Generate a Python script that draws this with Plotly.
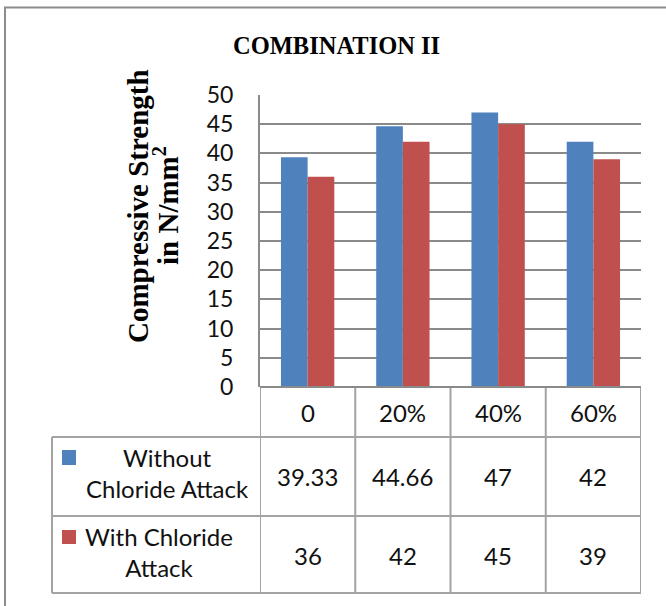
import plotly.graph_objects as go

# ---- data ----
categories = ["0", "20%", "40%", "60%"]
without_chloride = [39.33, 44.66, 47, 42]
with_chloride = [36, 42, 45, 39]
series_labels = ["Without<br>Chloride Attack", "With Chloride<br>Attack"]
series_colors = ["#4F81BD", "#C0504D"]
y_ticks = list(range(0, 55, 5))
y_title_lines = ["<b>Compressive Strength</b>", "<b>in N/mm<sup>2</sup></b>"]

# ---- layout geometry (pixels) ----
W, H = 666, 606
L, R, T, B = 260, 25, 95, 219
PW = W - L - R
PH = H - T - B

SANS = "Lato"
SERIF = "Liberation Serif"
GRID = "#8a8a8a"
TABLE_LINE = "#a3a3a3"
TEXT = "#111111"


def px_x(p):
    return (p - L) / PW


def px_y(p):
    return 1 - (p - T) / PH


def fmt(v):
    return f"{v:g}"


fig = go.Figure()
for name, vals, col in zip(series_labels, [without_chloride, with_chloride], series_colors):
    fig.add_trace(go.Bar(x=categories, y=vals, name=name.replace("<br>", " "),
                         marker=dict(color=col, line=dict(width=0))))

# table row boundaries (paper y)
row_header_bottom = px_y(437)
row1_bottom = px_y(516)
row2_bottom = px_y(593)
legend_left = px_x(52)

shapes = []
line = dict(color=TABLE_LINE, width=2)
# column separators at category boundaries
for i in range(len(categories) + 1):
    shapes.append(dict(type="line", xref="x", yref="paper", x0=i - 0.5, x1=i - 0.5,
                       y0=0, y1=row2_bottom, line=line))
# horizontal table rules
for yy in (row_header_bottom, row1_bottom, row2_bottom):
    shapes.append(dict(type="line", xref="paper", yref="paper", x0=legend_left, x1=1,
                       y0=yy, y1=yy, line=line))
shapes.append(dict(type="line", xref="paper", yref="paper", x0=legend_left, x1=legend_left,
                   y0=row_header_bottom, y1=row2_bottom, line=line))
# x axis baseline
shapes.append(dict(type="line", xref="paper", yref="paper", x0=0, x1=1, y0=0, y1=0,
                   line=dict(color=GRID, width=2)))
# legend keys
key_rows = [(450, 465), (530, 544)]
for (ya, yb), col in zip(key_rows, series_colors):
    shapes.append(dict(type="rect", xref="paper", yref="paper",
                       x0=px_x(62), x1=px_x(76), y0=px_y(yb), y1=px_y(ya),
                       fillcolor=col, line=dict(width=0)))
# chart frame
shapes.append(dict(type="rect", xref="paper", yref="paper",
                   x0=px_x(5), x1=px_x(700), y0=px_y(650), y1=px_y(7.5),
                   line=dict(color="#8c8c8c", width=2), fillcolor="rgba(0,0,0,0)",
                   layer="below"))

annotations = []
table_font = dict(family=SANS, size=24, color=TEXT)
header_y = px_y(412)
row_ys = [px_y(476.5), px_y(555)]
for i, c in enumerate(categories):
    annotations.append(dict(xref="x", yref="paper", x=i, y=header_y, text=c,
                            showarrow=False, font=table_font, xanchor="center", yanchor="middle"))
for vals, ry in zip([without_chloride, with_chloride], row_ys):
    for i, v in enumerate(vals):
        annotations.append(dict(xref="x", yref="paper", x=i, y=ry, text=fmt(v),
                                showarrow=False, font=table_font, xanchor="center", yanchor="middle"))
label_pos = [(167, 473), (159, 551.5)]
for lbl, (lx, ly) in zip(series_labels, label_pos):
    annotations.append(dict(xref="paper", yref="paper", x=px_x(lx), y=px_y(ly), text=lbl,
                            showarrow=False, font=table_font, align="center",
                            xanchor="center", yanchor="middle"))
# chart title
annotations.append(dict(xref="paper", yref="paper", x=px_x(336.5), y=px_y(46),
                        text="<b>COMBINATION II</b>", showarrow=False,
                        font=dict(family=SERIF, size=24.5, color="#000000"),
                        xanchor="center", yanchor="middle"))
# y axis title, two rotated lines
for txt, lx in zip(y_title_lines, (138, 166)):
    annotations.append(dict(xref="paper", yref="paper", x=px_x(lx), y=px_y(206),
                            text=txt, showarrow=False, textangle=-90,
                            font=dict(family=SERIF, size=29, color="#000000"),
                            xanchor="center", yanchor="middle"))

fig.update_layout(
    width=W, height=H,
    margin=dict(l=L, r=R, t=T, b=B, pad=0),
    paper_bgcolor="white", plot_bgcolor="white",
    barmode="group", bargap=0.44, bargroupgap=0,
    showlegend=False,
    shapes=shapes, annotations=annotations,
    xaxis=dict(type="category", range=[-0.5, len(categories) - 0.5],
               showticklabels=False, showgrid=False, zeroline=False,
               showline=False, ticks=""),
    yaxis=dict(range=[0, 50], tickvals=y_ticks, ticktext=[str(t) for t in y_ticks],
               showgrid=True, gridcolor=GRID, gridwidth=1.5,
               zeroline=False, showline=True, linecolor=GRID, linewidth=2,
               ticks="", ticklabelstandoff=20,
               tickfont=dict(family=SANS, size=23, color=TEXT)),
)

fig.write_html("out.html")
